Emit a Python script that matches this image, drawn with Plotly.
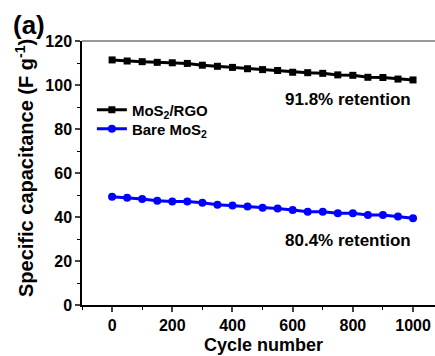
import plotly.graph_objects as go

cycles = list(range(0, 1001, 50))
mos2_rgo = [111.4, 110.9, 110.6, 110.3, 110.1, 109.8, 109.0, 108.5, 108.0, 107.4, 107.0,
            106.6, 105.8, 105.6, 105.3, 104.6, 104.4, 103.5, 103.4, 102.7, 102.3]
bare_mos2 = [49.2, 48.8, 48.2, 47.4, 47.0, 47.0, 46.5, 45.6, 45.2, 44.8, 44.2,
             43.9, 43.2, 42.4, 42.4, 41.7, 41.7, 40.9, 40.9, 40.2, 39.4]
x_ticks = [0, 200, 400, 600, 800, 1000]
y_ticks = [0, 20, 40, 60, 80, 100, 120]

FONT = "Liberation Sans, Arial, sans-serif"

fig = go.Figure()
fig.add_trace(go.Scatter(x=cycles, y=mos2_rgo, mode="lines+markers", name="MoS<sub>2</sub>/RGO",
                         line=dict(color="black", width=3), legend="legend",
                         marker=dict(symbol="square", size=7, color="black")))
fig.add_trace(go.Scatter(x=cycles, y=bare_mos2, mode="lines+markers", name="Bare MoS<sub>2</sub>",
                         line=dict(color="#0000ff", width=3), legend="legend2",
                         marker=dict(symbol="circle", size=8, color="#0000ff")))

leg_common = dict(xanchor="left", yanchor="middle", bgcolor="rgba(0,0,0,0)",
                  font=dict(size=15, family=FONT, weight="bold"), itemwidth=30)

fig.update_layout(
    width=435, height=356,
    margin=dict(l=82, r=0, t=41, b=51, autoexpand=False),
    plot_bgcolor="white", paper_bgcolor="white",
    font=dict(family=FONT, color="black", size=15, weight="bold"),
    showlegend=True,
    legend=dict(x=0.028, y=(305 - 110) / 264, **leg_common),
    legend2=dict(x=0.028, y=(305 - 129) / 264, **leg_common),
    xaxis=dict(range=[-100, 1073], tickvals=x_ticks, ticks="outside", ticklen=5, tickwidth=1.5,
               showline=True, linecolor="black", linewidth=1.5, showgrid=False, zeroline=False,
               automargin=False,
               minor=dict(dtick=100, ticks="outside", ticklen=3, tickwidth=1, tickcolor="black"),
               tickfont=dict(size=16, weight="bold")),
    yaxis=dict(range=[0, 120], tickvals=y_ticks, ticks="outside", ticklen=5, tickwidth=1.5,
               showline=True, linecolor="black", linewidth=1.5, showgrid=False, zeroline=False,
               automargin=False,
               minor=dict(dtick=10, ticks="outside", ticklen=3, tickwidth=1, tickcolor="black"),
               tickfont=dict(size=16, weight="bold")),
)

fig.add_shape(type="line", xref="paper", yref="paper", x0=0, x1=1, y0=1, y1=1,
              line=dict(color="#777777", width=1.5))

# axis titles
fig.add_annotation(xref="paper", yref="paper", x=(263 - 82) / 353, y=(305 - 345) / 264,
                   text="Cycle number", showarrow=False, xanchor="center", yanchor="middle",
                   font=dict(size=18, weight="bold", family=FONT))
fig.add_annotation(xref="paper", yref="paper", x=(24 - 82) / 353, y=(305 - 168) / 264,
                   text="Specific capacitance (F g<sup>-1</sup>)", showarrow=False, textangle=-90,
                   xanchor="center", yanchor="middle",
                   font=dict(size=20, weight="bold", family=FONT))

fig.add_annotation(x=1000, y=93.3, text="91.8% retention", showarrow=False, xanchor="right",
                   yanchor="middle", font=dict(size=17, weight="bold", family=FONT))
fig.add_annotation(x=1000, y=29.5, text="80.4% retention", showarrow=False, xanchor="right",
                   yanchor="middle", font=dict(size=17, weight="bold", family=FONT))
fig.add_annotation(xref="paper", yref="paper", x=(11 - 82) / 353, y=(305 - 25) / 264, text="(a)",
                   showarrow=False, xanchor="left", yanchor="middle",
                   font=dict(size=26, weight="bold", family=FONT))

fig.write_html("out.html", config={"displayModeBar": False},
               post_script="document.body.style.margin='0px';")
